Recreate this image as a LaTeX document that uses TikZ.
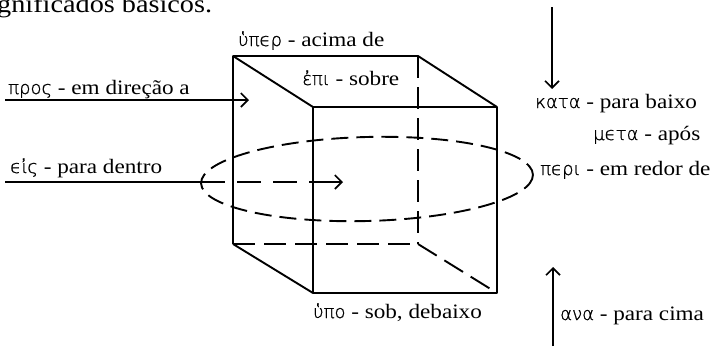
\documentclass[tikz,border=0pt]{standalone}
\usepackage{fontspec}
\setmainfont{Liberation Serif}[FakeStretch=1.13]
\newfontfamily\gk{DejaVu Sans ExtraLight}[Scale=0.88, FakeBold=1.2]
\usetikzlibrary{arrows.meta}
\begin{document}
\begin{tikzpicture}[x=1pt,y=-1pt,
  lbl/.style={anchor=base west, inner sep=0pt, font=\fontsize{20.5}{24}\selectfont},
  edge/.style={line width=1.9pt, line join=round},
  hidden/.style={line width=1.9pt, dash pattern=on 22pt off 9pt},
  ring/.style={line width=1.9pt, dash pattern=on 17pt off 8pt},
  thin/.style={line width=1.4pt},
  thindash/.style={line width=1.4pt, dash pattern=on 24pt off 12pt},
  arr/.style={line width=1.4pt, -{Straight Barb[length=7pt,width=14pt,line width=1.6pt]}}]
\useasboundingbox (0,0) rectangle (723,346);
% cube corners
\coordinate (A) at (233,56);
\coordinate (B) at (418,56);
\coordinate (C) at (418,244);
\coordinate (D) at (233,244);
\coordinate (E) at (313,107);
\coordinate (F) at (497,107);
\coordinate (G) at (497,293);
\coordinate (H) at (313,293);
% hidden edges
\draw[hidden] (B) -- (C);
\draw[hidden] (D) -- (C);
\draw[hidden] (C) -- (G);
% visible edges
\draw[edge] (D) -- (A) -- (B) -- (F);
\draw[edge] (A) -- (E);
\draw[edge] (E) -- (F) -- (G) -- (H) -- cycle;
\draw[edge] (D) -- (H);
% ring
\draw[ring, rotate around={1.5:(367,179)}] (367,179) ellipse [x radius=166, y radius=42];
% arrows
\coordinate (pros0) at (5,100);
\coordinate (pros1) at (249,100);
\draw[arr] (pros0) -- (pros1);
\coordinate (eis0) at (5,182);
\coordinate (eisL) at (201,182);
\coordinate (eisF) at (313,182);
\coordinate (eis1) at (343,182);
\draw[thin] (eis0) -- (eisL);
\draw[thindash] (eisL) -- (eisF);
\draw[arr] (eisF) -- (eis1);
\coordinate (kata0) at (552,7);
\coordinate (kata1) at (552,89);
\draw[arr] (kata0) -- (kata1);
\coordinate (ana0) at (553,346);
\coordinate (ana1) at (553,267);
\draw[arr] (ana0) -- (ana1);
% labels
\node[anchor=base west, inner sep=0pt, font=\fontsize{25}{30}\selectfont] (title) at (-3,12) {gnificados básicos.};
\node[lbl] (hyper) at (238,46) {{\gk ὑπϵρ} - acima de};
\node[lbl] (epi) at (302,85) {{\gk ἐπι} - sobre};
\node[lbl] (pros) at (8,94) {{\gk προς} - em direção a};
\node[lbl] (eis) at (10,173) {{\gk ϵἰς} - para dentro};
\node[lbl] (kata) at (535,108) {{\gk κατα} - para baixo};
\node[lbl] (meta) at (593,140) {{\gk μϵτα} - após};
\node[lbl] (peri) at (540,175) {{\gk πϵρι} - em redor de};
\node[lbl] (hypo) at (313,318) {{\gk ὑπο} - sob, debaixo};
\node[lbl] (ana) at (560,320) {{\gk ανα} - para cima};
\end{tikzpicture}
\end{document}
